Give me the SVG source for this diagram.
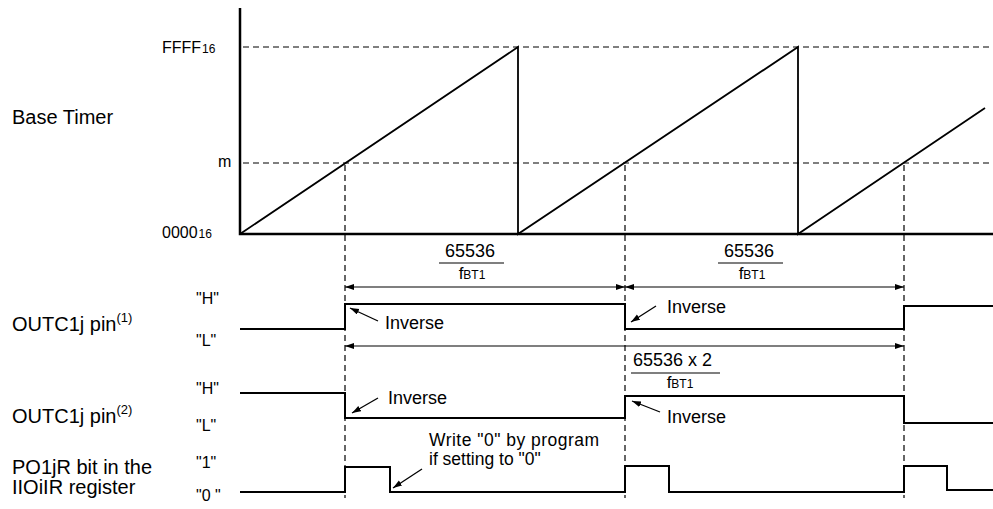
<svg xmlns="http://www.w3.org/2000/svg" width="993" height="509" viewBox="0 0 993 509">
<style>
text{font-family:"Liberation Sans",Arial,sans-serif;fill:#000}
.lbl{font-size:20px}
.lvl{font-size:16px}
.ax{font-size:16px}
.sub{font-size:12px}
.inv{font-size:18px}
.wr{font-size:17.5px}
.num{font-size:18px}
.f{font-size:17px}
.fs{font-size:12px}
.sig{fill:none;stroke:#000;stroke-width:2}
.dash{fill:none;stroke:#000;stroke-width:1.2;stroke-dasharray:6 4}
.dim{fill:none;stroke:#000;stroke-width:1.2;marker-start:url(#ah);marker-end:url(#ah)}
.ptr{fill:none;stroke:#000;stroke-width:1.3;marker-end:url(#ah)}
.bar{stroke:#000;stroke-width:1.2}
</style>
<defs>
<marker id="ah" markerUnits="userSpaceOnUse" markerWidth="10" markerHeight="8" refX="9" refY="3" orient="auto-start-reverse">
<path d="M0,0 L9,3 L0,6 z" fill="#000"/>
</marker>
</defs>
<rect width="993" height="509" fill="#fff"/>

<g id="base-timer">
<text class="lbl" x="12" y="124">Base Timer</text>
<text class="ax" x="162" y="53">FFFF<tspan class="sub" dx="1">16</tspan></text>
<text class="lvl" x="218" y="167">m</text>
<text class="ax" x="162" y="238">0000<tspan class="sub" dx="1">16</tspan></text>
<path class="dash" d="M243,47 H993 M243,163 H993"/>
<path d="M240,8 V234 H993" fill="none" stroke="#000" stroke-width="2.5"/>
<path d="M240,234 L518,47 V234 L798,47 V234 L985,108" fill="none" stroke="#000" stroke-width="1.8"/>
</g>

<g id="guides">
<path class="dash" d="M345,165 V498 M625,165 V498 M904,165 V498"/>
</g>

<g id="connectors">
<path class="dim" d="M345,287 H625"/>
<path class="dim" d="M625,287 H904"/>
<path class="dim" d="M345,346 H904"/>
<path class="ptr" d="M378,321 L350,308"/>
<path class="ptr" d="M656,306 L631,322"/>
<path class="ptr" d="M378,398 L352,413"/>
<path class="ptr" d="M660,412 L632,401"/>
<path class="ptr" d="M422,469 L393,488"/>
</g>

<g id="period-1">
<text class="num" x="470" y="257" text-anchor="middle">65536</text>
<line class="bar" x1="439" y1="263" x2="504" y2="263"/>
<text x="472" y="279" text-anchor="middle"><tspan class="f">f</tspan><tspan class="fs">BT1</tspan></text>
</g>
<g id="period-2">
<text class="num" x="749" y="257" text-anchor="middle">65536</text>
<line class="bar" x1="718" y1="263" x2="783" y2="263"/>
<text x="752" y="279" text-anchor="middle"><tspan class="f">f</tspan><tspan class="fs">BT1</tspan></text>
</g>
<g id="period-3">
<text class="num" x="633" y="366">65536 x 2</text>
<line class="bar" x1="631" y1="373" x2="720" y2="373"/>
<text x="680" y="388" text-anchor="middle"><tspan class="f">f</tspan><tspan class="fs">BT1</tspan></text>
</g>

<g id="outc-pin-1">
<text class="lbl" x="12" y="331">OUTC1j pin<tspan font-size="13" dy="-9">(1)</tspan></text>
<text class="lvl" x="196" y="304">"H"</text>
<text class="lvl" x="196" y="346">"L"</text>
<path class="sig" d="M240,329 H345 V304 H625 V329 H904 V306 H993"/>
<text class="inv" x="385" y="329">Inverse</text>
<text class="inv" x="667" y="313">Inverse</text>
</g>

<g id="outc-pin-2">
<text class="lbl" x="12" y="423">OUTC1j pin<tspan font-size="13" dy="-9">(2)</tspan></text>
<text class="lvl" x="196" y="394">"H"</text>
<text class="lvl" x="196" y="431">"L"</text>
<path class="sig" d="M240,393 H345 V418 H625 V396 H904 V423 H993"/>
<text class="inv" x="388" y="404">Inverse</text>
<text class="inv" x="667" y="423">Inverse</text>
</g>

<g id="po1jr-bit">
<text class="lbl" x="12" y="474">PO1jR bit in the</text>
<text class="lbl" x="12" y="494">IIOiIR register</text>
<text class="lvl" x="196" y="468">"1"</text>
<text class="lvl" x="196" y="501">"0 "</text>
<path class="sig" d="M240,492 H345 V467 H390 V492 H625 V466 H669 V492 H904 V466 H947 V490 H993"/>
<text class="wr" x="429" y="446" textLength="170">Write "0" by program</text>
<text class="wr" x="429" y="465">if setting to "0"</text>
</g>
</svg>
